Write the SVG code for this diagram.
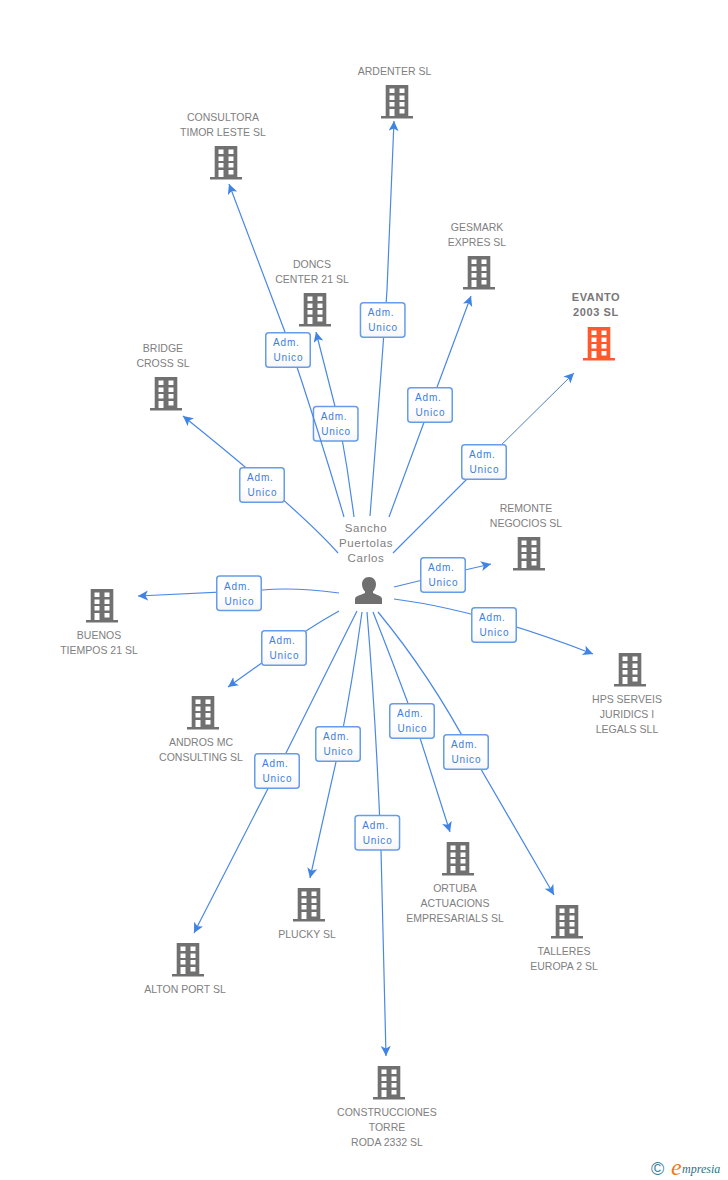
<svg xmlns="http://www.w3.org/2000/svg" width="728" height="1180" viewBox="0 0 728 1180">
<style>
text{font-family:"Liberation Sans",Arial,sans-serif}
.n{font-size:10.5px;fill:#808080;text-anchor:middle}
.b{font-weight:bold;font-size:11px;letter-spacing:.6px;fill:#777}
.p{font-size:11.5px;letter-spacing:.6px;fill:#808080}
.c{fill:none;stroke:#4a88e6;stroke-width:1.2;marker-end:url(#a)}
.lb rect{fill:url(#g);stroke:#669ceb;stroke-width:1.5}
.lb text{font-size:10px;fill:#3a80e0;letter-spacing:.85px}
</style>
<defs>
<linearGradient id="g" x1="0" y1="0" x2="0" y2="1"><stop offset="0" stop-color="#fff"/><stop offset=".6" stop-color="#fff"/><stop offset="1" stop-color="#f6f6f6"/></linearGradient>
<marker id="a" markerUnits="userSpaceOnUse" markerWidth="12" markerHeight="12" refX="10" refY="5" orient="auto"><path d="M0 0L10 5L0 10L2.500 5Z" fill="#3f84e5"/></marker>
<path id="bd" fill-rule="evenodd" d="M-11.300 0H11.300V31H16V33.500H-16V31H-11.300ZM-7.500 3.500V8H-2.500V3.500ZM2.500 3.500V8H7.500V3.500ZM-7.500 10.500V15H-2.500V10.500ZM2.500 10.500V15H7.500V10.500ZM-7.500 17V21.500H-2.500V17ZM2.500 17V21.500H7.500V17ZM-7.500 24V31H-2.500V24ZM2.500 24V28.500H7.500V24Z"/>
<g id="lbl" class="lb"><rect x="-22.250" y="-17.250" width="44.500" height="34.500" rx="3"/><text x="-15" y="-3.700">Adm.</text><text x="-14.500" y="11.300">Unico</text></g>
</defs>
<rect width="728" height="1180" fill="#fff"/>
<g id="connectors">
<path class="c" d="M354 517Q348 470 339.500 424L316 332"/>
<use href="#lbl" x="335.700" y="423.700"/>
<path class="c" d="M370 516Q380.750 380 387 290Q389 240 394 121"/>
<path class="c" d="M344 517Q320 435 288 340L229 184"/>
<path class="c" d="M389 517Q408 465 433 398L471 296"/>
<path d="M393 553L484 462" class="c" style="marker-end:none"/>
<path d="M484 462L574 373" fill="none" stroke="#4a7fc0" stroke-width="1" marker-end="url(#a)"/>
<path class="c" d="M338 553Q300 510 183 416"/>
<path class="c" d="M394 587L443 575L491 564"/>
<path class="c" d="M394 599Q480 610 593 654"/>
<path class="c" d="M339 593Q295 587 262 590Q240 591 138 596"/>
<path class="c" d="M339 611Q305 630 284 647L228 687"/>
<path class="c" d="M357 611L277 771L194 933"/>
<path class="c" d="M362 612Q352 685 340 744L310 878"/>
<path class="c" d="M367 612Q376 720 381 850L386 1056"/>
<path class="c" d="M373 612Q392 660 414.600 721L450 832"/>
<path class="c" d="M378 612Q430 675 471 752L554 895"/>
<use href="#lbl" x="382.700" y="320"/><use href="#lbl" x="288" y="350"/><use href="#lbl" x="430" y="405"/><use href="#lbl" x="484" y="462"/><use href="#lbl" x="262" y="485"/><use href="#lbl" x="443" y="575"/><use href="#lbl" x="494" y="625"/><use href="#lbl" x="239" y="593.300"/><use href="#lbl" x="284" y="648"/><use href="#lbl" x="277" y="771"/><use href="#lbl" x="338" y="744"/><use href="#lbl" x="377.300" y="832.700"/><use href="#lbl" x="412" y="721"/><use href="#lbl" x="466" y="752"/>
</g>
<g id="person"><text class="n p" x="366" y="532">Sancho</text><text class="n p" x="366" y="547">Puertolas</text><text class="n p" x="366" y="562">Carlos</text>
<path fill="#707070" d="M369 577C373.500 577 376 580.500 376 584C376 587.500 374.500 590 373 591.500V593C375 594.500 382 595.500 382 599V604H355V599C355 595.500 363 594.500 365 593V591.500C363.500 590 362 587.500 362 584C362 580.500 364.500 577 369 577Z"/></g>
<g id="ardenter" fill="#707070"><text class="n" x="394.500" y="75">ARDENTER SL</text><use href="#bd" x="397" y="85"/></g>
<g id="consultora" fill="#707070"><text class="n" x="223" y="121">CONSULTORA</text><text class="n" x="223" y="136">TIMOR LESTE SL</text><use href="#bd" x="226" y="146"/></g>
<g id="doncs" fill="#707070"><text class="n" x="312" y="268">DONCS</text><text class="n" x="312" y="283">CENTER 21 SL</text><use href="#bd" x="315" y="293"/></g>
<g id="gesmark" fill="#707070"><text class="n" x="477" y="231">GESMARK</text><text class="n" x="477" y="246">EXPRES SL</text><use href="#bd" x="479" y="256"/></g>
<g id="evanto" fill="#ff5a2c"><text class="n b" x="596" y="301">EVANTO</text><text class="n b" x="596" y="316">2003 SL</text><use href="#bd" x="599" y="327"/></g>
<g id="bridge" fill="#707070"><text class="n" x="163" y="352">BRIDGE</text><text class="n" x="163" y="367">CROSS SL</text><use href="#bd" x="166" y="377"/></g>
<g id="remonte" fill="#707070"><text class="n" x="526" y="512">REMONTE</text><text class="n" x="526" y="527">NEGOCIOS SL</text><use href="#bd" x="529" y="537"/></g>
<g id="buenos" fill="#707070"><use href="#bd" x="102" y="589"/><text class="n" x="99" y="639">BUENOS</text><text class="n" x="99" y="654">TIEMPOS 21 SL</text></g>
<g id="hps" fill="#707070"><use href="#bd" x="630" y="653"/><text class="n" x="627" y="703">HPS SERVEIS</text><text class="n" x="627" y="718">JURIDICS I</text><text class="n" x="627" y="733">LEGALS SLL</text></g>
<g id="andros" fill="#707070"><use href="#bd" x="203" y="696"/><text class="n" x="201" y="746">ANDROS MC</text><text class="n" x="201" y="761">CONSULTING SL</text></g>
<g id="ortuba" fill="#707070"><use href="#bd" x="458" y="842"/><text class="n" x="455" y="892">ORTUBA</text><text class="n" x="455" y="907">ACTUACIONS</text><text class="n" x="455" y="922">EMPRESARIALS SL</text></g>
<g id="talleres" fill="#707070"><use href="#bd" x="567" y="905"/><text class="n" x="564" y="955">TALLERES</text><text class="n" x="564" y="970">EUROPA 2 SL</text></g>
<g id="plucky" fill="#707070"><use href="#bd" x="309" y="888"/><text class="n" x="307" y="938">PLUCKY SL</text></g>
<g id="alton" fill="#707070"><use href="#bd" x="188" y="943"/><text class="n" x="185" y="993">ALTON PORT SL</text></g>
<g id="construcciones" fill="#707070"><use href="#bd" x="389" y="1066"/><text class="n" x="387" y="1116">CONSTRUCCIONES</text><text class="n" x="387" y="1131">TORRE</text><text class="n" x="387" y="1146">RODA 2332 SL</text></g>
<g id="logo"><text x="657.700" y="1175" font-size="18" fill="#3d7f99" text-anchor="middle">©</text><text x="671" y="1175" font-size="24" font-style="italic" fill="#f07a1a" style="font-family:'Liberation Serif',serif">e</text><text x="682" y="1173" font-size="12" font-style="italic" fill="#2f7089" style="font-family:'Liberation Serif',serif">mpresia</text></g>
</svg>
